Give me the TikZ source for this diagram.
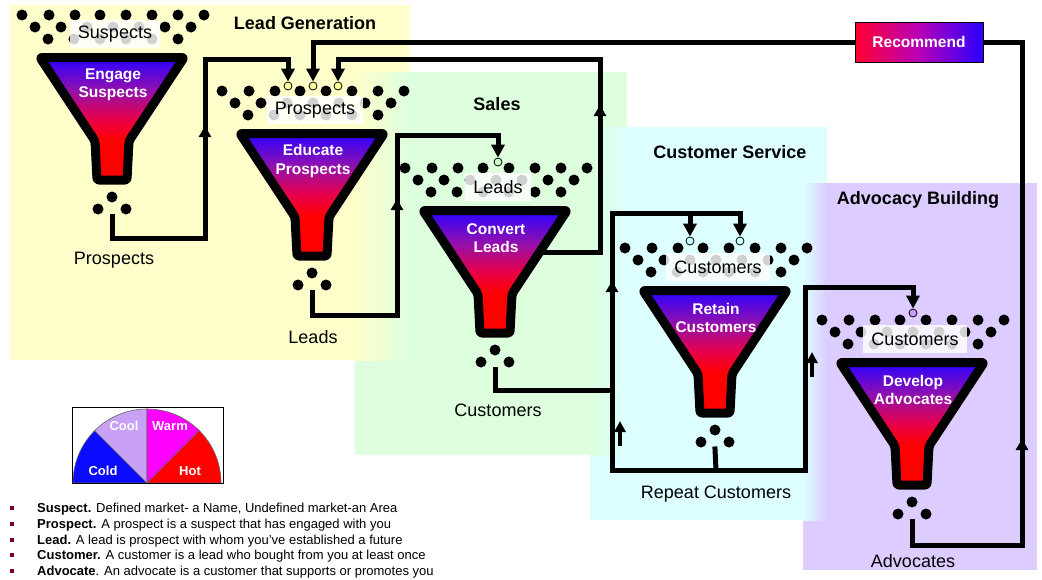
\documentclass[tikz,border=0pt]{standalone}
\usepackage{fontspec}
\setmainfont{Liberation Sans}
\usetikzlibrary{arrows.meta}
\definecolor{lgY}{HTML}{FFFFCC}
\definecolor{salesG}{HTML}{DDFFDD}
\definecolor{csC}{HTML}{DDFFFF}
\definecolor{advL}{HTML}{DDCCFF}
\definecolor{fBlue}{HTML}{2A00FF}
\definecolor{fPurp}{HTML}{9010B0}
\definecolor{fCrim}{HTML}{E8004A}
\definecolor{fRed}{HTML}{FF0000}
\definecolor{rRed}{HTML}{FF0030}
\definecolor{rMag}{HTML}{B800B8}
\definecolor{bulletRed}{HTML}{800020}
\definecolor{inYel}{HTML}{FFFF99}
\definecolor{inGrn}{HTML}{CCFFCC}
\definecolor{inCyn}{HTML}{CCFFFF}
\definecolor{inLav}{HTML}{CC99FF}
\definecolor{gCold}{HTML}{0A0AFF}
\definecolor{gCool}{HTML}{C8A0F5}
\definecolor{gWarm}{HTML}{FF00FF}
\definecolor{gHot}{HTML}{FF0000}
\pgfdeclareverticalshading{funnelshade}{100bp}{color(0bp)=(fRed); color(41bp)=(fRed); color(50bp)=(fCrim); color(62bp)=(fPurp); color(75bp)=(fBlue); color(100bp)=(fBlue)}
\pgfdeclarehorizontalshading{recshade}{100bp}{color(0bp)=(rRed); color(25bp)=(rRed); color(50bp)=(rMag); color(75bp)=(fBlue); color(100bp)=(fBlue)}
\pgfdeclarelayer{panels}
\pgfdeclarelayer{wires}
\pgfsetlayers{panels,wires,main}
\tikzset{
  wire/.style={line width=5pt, line join=miter, line cap=rect},
  arr/.style={-{Triangle[width=13pt,length=13pt]}},
  upar/.style={line width=5pt, line cap=butt, -{Triangle[width=12pt,length=11pt]}},
  sidear/.style={line width=4pt, line cap=butt, -{Triangle[width=11pt,length=11pt]}},
  incirc/.style={circle, draw=black, line width=0.8pt, inner sep=0pt, minimum size=8pt},
  lblbox/.style={fill=white, fill opacity=0.82, text opacity=1, inner xsep=8pt, inner ysep=0pt, minimum height=28pt, font=\fontsize{18}{20}\selectfont},
  fntext/.style={text=white, align=center, font=\bfseries\fontsize{15.5}{18.5}\selectfont},
  funnelbody/.style={shading=funnelshade, draw=black, line width=9pt, line join=round, rounded corners=2pt},
  ttl/.style={font=\bfseries\fontsize{18}{20}\selectfont},
  flow/.style={font=\fontsize{18}{20}\selectfont},
  glabel/.style={text=white, font=\bfseries\fontsize{13}{15}\selectfont},
  gsec/.style={draw=black!60, line width=0.6pt},
  defn/.style={anchor=base west, font=\fontsize{13}{15}\selectfont, inner sep=0pt},
  recbox/.style={shade, shading=recshade, draw=black, line width=0.8pt, minimum width=128pt, minimum height=40pt, text=white, font=\bfseries\fontsize{15.5}{18}\selectfont},
}
\newcommand\myfunnel[5]{%
\begin{scope}[shift={(#2,#3)}]
 \foreach \dx in {-90,-63,-37,-12,14,40,66,92} \fill (\dx,-38) circle[radius=5.5];
 \foreach \dx in {-77,-51,-25,1,27,53,79} \fill (\dx,-26) circle[radius=5.5];
 \foreach \dx in {-64,-38,-12,14,40,66} \fill (\dx,-14) circle[radius=5.5];
 \node[lblbox] (#1lbl) at (3,-19) {#4};
 \shadedraw[funnelbody] (-72,4.5) -- (72,4.5) -- (17,88) -- (15,127) -- (-15,127) -- (-17,88) -- cycle;
 \node[fntext] (#1txt) at (1,32) {#5};
 \fill (0,144) circle[radius=5.5] (-14,156) circle[radius=5.5] (14,156) circle[radius=5.5];
 \coordinate (#1out) at (0,163);
 \coordinate (#1side) at (45,46);
\end{scope}}
\begin{document}
\begin{tikzpicture}[x=1pt,y=-1pt]
\useasboundingbox (0,0) rectangle (1042,579);
\begin{pgfonlayer}{panels}
\fill[white] (0,0) rectangle (1042,579);
\fill[salesG] (355,72) rectangle (627,455);
\fill[lgY] (10,5) rectangle (410,360);
\shade[left color=lgY, right color=salesG] (355,72) rectangle (410,360);
\fill[csC] (590,127) rectangle (827,520);
\shade[left color=salesG, right color=csC] (590,127) rectangle (627,455);
\fill[advL] (803,183) rectangle (1037,570);
\shade[left color=csC, right color=advL] (803,183) rectangle (827,520);
\end{pgfonlayer}

% section titles
\node[ttl] (tLG) at (305,23) {Lead Generation};
\node[ttl] (tS) at (497,104) {Sales};
\node[ttl] (tCS) at (730,152) {Customer Service};
\node[ttl] (tAB) at (918,200) {Advocacy Building};

% funnels
\myfunnel{fa}{112}{53}{Suspects}{Engage\\Suspects}
\myfunnel{fb}{312}{129}{Prospects}{Educate\\Prospects}
\myfunnel{fc}{495}{206}{Leads}{Convert\\Leads}
\myfunnel{fd}{715}{286}{Customers}{Retain\\Customers}
\myfunnel{fe}{912}{358}{Customers}{Develop\\Advocates}

% flow labels
\node[flow] (lProsp) at (114,260) {Prospects};
\node[flow] (lLeads) at (313,337) {Leads};
\node[flow] (lCust) at (498,410) {Customers};
\node[flow] (lRep) at (716,494) {Repeat Customers};
\node[flow] (lAdv) at (913,561) {Advocates};

% recommend
\node[recbox] (rec) at (919,42) {Recommend};

% entry circles
\node[incirc, fill=inYel] (c1) at (288,86) {};
\node[incirc, fill=inYel] (c2) at (313,86) {};
\node[incirc, fill=inYel] (c3) at (338,86) {};
\node[incirc, fill=inGrn] (c4) at (498,162) {};
\node[incirc, fill=inCyn] (c5) at (690,241) {};
\node[incirc, fill=inCyn] (c6) at (740,241) {};
\node[incirc, fill=inLav] (c7) at (913,313) {};

\coordinate (loopL) at (612,390);
\coordinate (loopB) at (612,470);
\coordinate (loopT) at (612,213);
\coordinate (advB) at (805,470);

\begin{pgfonlayer}{wires}
\draw[wire,arr] (faout) -- (112,238) -- (205,238) -- (205,59) -| (c1);
\draw[wire,arr] (rec.west) -| (c2);
\draw[wire,arr] (fcside) -- (600,252) -- (600,59) -| (c3);
\draw[wire,arr] (fbout) -- (312,315) -- (397,315) -- (397,135) -| (c4);
\draw[wire] (fcout) |- (loopL);
\draw[wire,arr] (loopB) -- (loopT) -| (c6);
\draw[wire,arr] (690,213) -- (c5);
\draw[wire] (fdout) -- (716,470);
\draw[wire,arr] (loopB) -- (advB) -- (805,287) -| (c7);
\draw[wire] (feout) -- (912,545) -- (1022,545) -- (1022,42) -- (rec.east);
% direction marks
\draw[upar] (205,145) -- (205,126);
\draw[upar] (397,218) -- (397,199);
\draw[upar] (600,124) -- (600,105);
\draw[upar] (612,300) -- (612,281);
\draw[upar] (1022,458) -- (1022,439);
\draw[sidear] (620,446) -- (620,421);
\draw[sidear] (812,377) -- (812,352);
\end{pgfonlayer}

% gauge
\draw[line width=0.8pt, fill=white] (72,407) rectangle (223,483);
\coordinate (gc) at (147,483);
\filldraw[gsec, fill=gCold] (gc) -- ++(-74,0) arc[start angle=180, end angle=225, radius=74] -- cycle;
\filldraw[gsec, fill=gCool] (gc) -- ++(225:74) arc[start angle=225, end angle=270, radius=74] -- cycle;
\filldraw[gsec, fill=gWarm] (gc) -- ++(270:74) arc[start angle=270, end angle=315, radius=74] -- cycle;
\filldraw[gsec, fill=gHot] (gc) -- ++(315:74) arc[start angle=315, end angle=360, radius=74] -- cycle;
\draw[line width=0.8pt] (72,483) -- (223,483);
\node[glabel] (gCo) at (103,471) {Cold};
\node[glabel] (gCl) at (124,426) {Cool};
\node[glabel] (gW) at (170,426) {Warm};
\node[glabel] (gH) at (190,471) {Hot};

% definitions
\foreach \yy in {508,524,540,555,571} \fill[bulletRed] (10,\yy-2) rectangle (14,\yy+2);
\node[defn] (d1) at (37,512) {\textbf{Suspect.} Defined market- a Name, Undefined market-an Area};
\node[defn] (d2) at (37,528) {\textbf{Prospect.} A prospect is a suspect that has engaged with you};
\node[defn] (d3) at (37,544) {\textbf{Lead.} A lead is prospect with whom you've established a future};
\node[defn] (d4) at (37,559) {\textbf{Customer.} A customer is a lead who bought from you at least once};
\node[defn] (d5) at (37,575) {\textbf{Advocate}. An advocate is a customer that supports or promotes you};
\end{tikzpicture}
\end{document}
